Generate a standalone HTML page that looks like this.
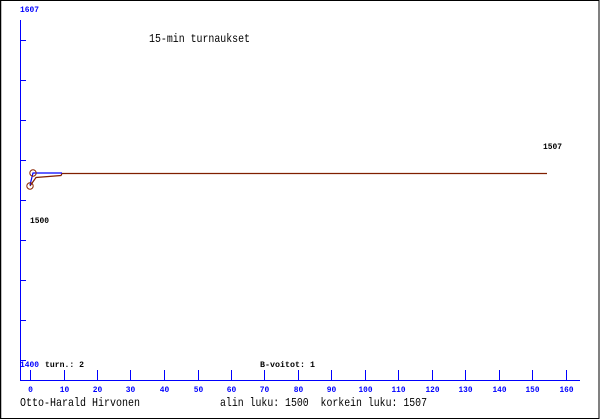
<!DOCTYPE html>
<html>
<head>
<meta charset="utf-8">
<style>
  html, body { margin:0; padding:0; background:#fff; }
  body { width:600px; height:420px; overflow:hidden; }
  svg { display:block; }
  text { font-family: "Liberation Mono", "DejaVu Sans Mono", monospace; }
</style>
</head>
<body>
<svg width="600" height="420" viewBox="0 0 600 420" xmlns="http://www.w3.org/2000/svg">
  <!-- frame -->
  <rect x="0" y="0" width="600" height="420" fill="#fff"/>
  <rect x="0.5" y="0.5" width="598.5" height="418" fill="none" stroke="#000" stroke-width="1"/>
  <line x1="0.5" y1="0" x2="0.5" y2="419" stroke="#000" stroke-width="1.5"/>

  <!-- axes -->
  <g stroke="#0000ff" stroke-width="1" shape-rendering="crispEdges">
    <line x1="20.5" y1="20" x2="20.5" y2="381"/>
    <line x1="20" y1="380.5" x2="580" y2="380.5"/>
    <!-- y ticks -->
    <line x1="20" y1="40.5" x2="26" y2="40.5"/>
    <line x1="20" y1="80.5" x2="26" y2="80.5"/>
    <line x1="20" y1="120.5" x2="26" y2="120.5"/>
    <line x1="20" y1="160.5" x2="26" y2="160.5"/>
    <line x1="20" y1="200.5" x2="26" y2="200.5"/>
    <line x1="20" y1="240.5" x2="26" y2="240.5"/>
    <line x1="20" y1="280.5" x2="26" y2="280.5"/>
    <line x1="20" y1="320.5" x2="26" y2="320.5"/>
    <line x1="20" y1="360.5" x2="26" y2="360.5"/>
    <!-- x ticks -->
    <line x1="30.5" y1="370" x2="30.5" y2="380"/>
    <line x1="64.5" y1="370" x2="64.5" y2="380"/>
    <line x1="97.5" y1="370" x2="97.5" y2="380"/>
    <line x1="130.5" y1="370" x2="130.5" y2="380"/>
    <line x1="164.5" y1="370" x2="164.5" y2="380"/>
    <line x1="198.5" y1="370" x2="198.5" y2="380"/>
    <line x1="231.5" y1="370" x2="231.5" y2="380"/>
    <line x1="264.5" y1="370" x2="264.5" y2="380"/>
    <line x1="298.5" y1="370" x2="298.5" y2="380"/>
    <line x1="331.5" y1="370" x2="331.5" y2="380"/>
    <line x1="365.5" y1="370" x2="365.5" y2="380"/>
    <line x1="398.5" y1="370" x2="398.5" y2="380"/>
    <line x1="432.5" y1="370" x2="432.5" y2="380"/>
    <line x1="465.5" y1="370" x2="465.5" y2="380"/>
    <line x1="499.5" y1="370" x2="499.5" y2="380"/>
    <line x1="532.5" y1="370" x2="532.5" y2="380"/>
    <line x1="566.5" y1="370" x2="566.5" y2="380"/>
  </g>

  <!-- x tick labels -->
  <g fill="#0000ff" font-size="8" font-weight="bold" text-anchor="middle">
    <text x="30.5" y="392">0</text>
    <text x="64.5" y="392" textLength="9.5" lengthAdjust="spacingAndGlyphs">10</text>
    <text x="97.5" y="392" textLength="9.5" lengthAdjust="spacingAndGlyphs">20</text>
    <text x="130.5" y="392" textLength="9.5" lengthAdjust="spacingAndGlyphs">30</text>
    <text x="164.5" y="392" textLength="9.5" lengthAdjust="spacingAndGlyphs">40</text>
    <text x="198.5" y="392" textLength="9.5" lengthAdjust="spacingAndGlyphs">50</text>
    <text x="231.5" y="392" textLength="9.5" lengthAdjust="spacingAndGlyphs">60</text>
    <text x="264.5" y="392" textLength="9.5" lengthAdjust="spacingAndGlyphs">70</text>
    <text x="298.5" y="392" textLength="9.5" lengthAdjust="spacingAndGlyphs">80</text>
    <text x="331.5" y="392" textLength="9.5" lengthAdjust="spacingAndGlyphs">90</text>
    <text x="365.5" y="392" textLength="14" lengthAdjust="spacingAndGlyphs">100</text>
    <text x="398.5" y="392" textLength="14" lengthAdjust="spacingAndGlyphs">110</text>
    <text x="432.5" y="392" textLength="14" lengthAdjust="spacingAndGlyphs">120</text>
    <text x="465.5" y="392" textLength="14" lengthAdjust="spacingAndGlyphs">130</text>
    <text x="499.5" y="392" textLength="14" lengthAdjust="spacingAndGlyphs">140</text>
    <text x="532.5" y="392" textLength="14" lengthAdjust="spacingAndGlyphs">150</text>
    <text x="566.5" y="392" textLength="14" lengthAdjust="spacingAndGlyphs">160</text>
  </g>

  <!-- y labels -->
  <text x="20" y="12" fill="#0000ff" font-size="8" font-weight="bold" textLength="19" lengthAdjust="spacingAndGlyphs">1607</text>
  <text x="20" y="367" fill="#0000ff" font-size="8" font-weight="bold" textLength="19" lengthAdjust="spacingAndGlyphs">1400</text>

  <!-- title -->
  <text x="149" y="42" fill="#000" font-size="12" textLength="101" lengthAdjust="spacingAndGlyphs">15-min turnaukset</text>

  <!-- value labels -->
  <text x="543" y="149" fill="#000" font-size="8" font-weight="bold" textLength="19" lengthAdjust="spacingAndGlyphs">1507</text>
  <text x="30" y="223" fill="#000" font-size="8" font-weight="bold" textLength="19" lengthAdjust="spacingAndGlyphs">1500</text>

  <text x="45" y="367" fill="#000" font-size="8" font-weight="bold" textLength="39" lengthAdjust="spacingAndGlyphs">turn.: 2</text>
  <text x="260" y="367" fill="#000" font-size="8" font-weight="bold" textLength="55" lengthAdjust="spacingAndGlyphs">B-voitot: 1</text>

  <!-- data -->
  <polyline points="30,186 36,177.5 61,175.5 62,173.5 547,173.5" fill="none" stroke="#802000" stroke-width="1.2"/>
  <polyline points="30,185 33,173 62,173" fill="none" stroke="#0000ff" stroke-width="1.2"/>
  <circle cx="33" cy="173" r="3.2" fill="none" stroke="#8b2500" stroke-width="1"/>
  <circle cx="30" cy="186" r="3.2" fill="none" stroke="#8b2500" stroke-width="1"/>

  <!-- footer -->
  <text x="20" y="406" fill="#000" font-size="12" textLength="120" lengthAdjust="spacingAndGlyphs">Otto-Harald Hirvonen</text>
  <text x="220" y="406" fill="#000" font-size="12" style="white-space:pre" xml:space="preserve" textLength="207" lengthAdjust="spacingAndGlyphs">alin luku: 1500  korkein luku: 1507</text>
</svg>
</body>
</html>
